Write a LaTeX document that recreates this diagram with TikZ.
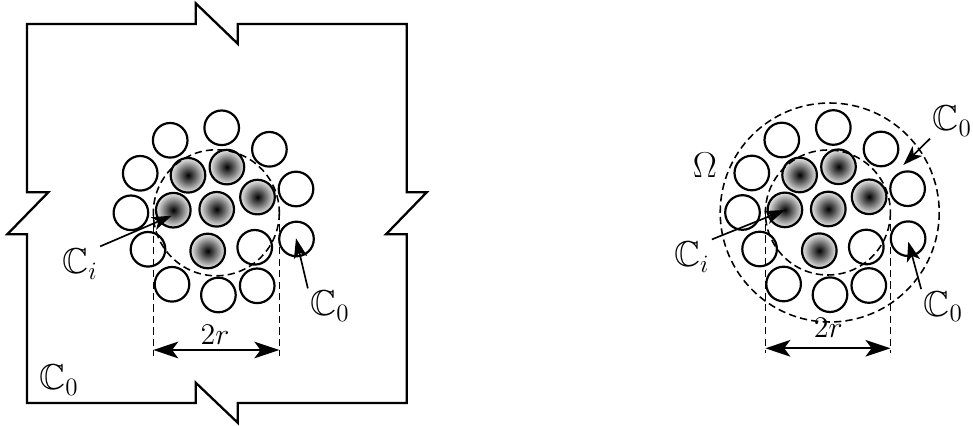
\documentclass[tikz,border=0pt]{standalone}
\usepackage{amssymb}
\usetikzlibrary{arrows.meta}
\tikzset{
  px/.style={x=0.48pt,y=-0.48pt},
  frame/.style={line width=1.1pt,line join=miter},
  ring/.style={line width=1.05pt},
  dashline/.style={line width=0.75pt,dash pattern=on 3.5pt off 2pt},
  bigC/.style={font=\LARGE,inner sep=1pt},
  midlbl/.style={font=\Large,inner sep=1pt},
  ptr/.style={line width=0.8pt,-{Stealth[length=9.5pt,width=6.5pt,inset=2.5pt]}},
  dim/.style={line width=0.8pt,{Stealth[length=12pt,width=8pt,inset=3pt]}-{Stealth[length=12pt,width=8pt,inset=3pt]}},
  fillball/.style={inner color=black,outer color=black!8}
}
\newcommand{\drawcluster}{%
  \foreach \cx/\cy in {-46.5/-69, 5/-81.5, 52.7/-60, -76.5/-36, 79.3/-20.3,
      -85.8/3.5, 79.8/29.7, -68.7/40, 38/38, -44.7/75, 1.7/85.7, 40.5/76.5}
    {\draw[ring] (\cx,\cy) circle (17.3);}
  \foreach \cx/\cy in {-28.7/-34, 10.2/-42.2, 40.8/-12.2, -43.4/0.9, 0/0, -9/41.7}
    {\shade[fillball] (\cx,\cy) circle (17.3);
     \draw[ring] (\cx,\cy) circle (17.3);}
}
\begin{document}
\begin{tikzpicture}[px]
\useasboundingbox (0,0) rectangle (973,426);
% ---------- left panel ----------
\draw[frame] (27,24) -- (195.7,24) -- (195.7,3.3) -- (237.7,43.7) -- (237.7,24)
  -- (406.7,24) -- (406.7,192.3) -- (426.7,192.3) -- (386,234.3) -- (406.7,234.3)
  -- (406.7,403) -- (237.7,403) -- (237.7,422.7) -- (195.7,382.7) -- (195.7,403)
  -- (27,403) -- (27,234.3) -- (7.3,234.3) -- (48.3,192.3) -- (27,192.3) -- cycle;
\begin{scope}[shift={(216.7,209.3)}]
  \drawcluster
\end{scope}
\draw[dashline] (216.3,212.8) circle (63);
\coordinate (lA) at (153.3,212.8);
\coordinate (lB) at (279.3,212.8);
\coordinate (lA2) at (153.3,356);
\coordinate (lB2) at (279.3,356);
\draw[dashline] (lA) -- (lA2);
\draw[dashline] (lB) -- (lB2);
\coordinate (lD1) at (153.3,350);
\coordinate (lD2) at (279.3,350);
\draw[dim] (lD1) -- (lD2);
\node[midlbl] (l2r) at (215,335) {$2r$};
\node[bigC] (lCi) at (80,264) {$\mathbb{C}_i$};
\node[bigC] (lC0a) at (330,306) {$\mathbb{C}_0$};
\node[bigC] (lC0b) at (59,380) {$\mathbb{C}_0$};
\coordinate (lCitip) at (171.7,215.7);
\coordinate (lC0tip) at (296,238.3);
\draw[ptr] (lCi.north east) -- (lCitip);
\draw[ptr] (lC0a.north west) -- (lC0tip);
% ---------- right panel ----------
\begin{scope}[shift={(828.3,209)}]
  \drawcluster
\end{scope}
\draw[dashline] (827.9,212.5) circle (62.5);
\draw[dashline] (829.7,212.5) circle (109.5);
\coordinate (rA) at (765.4,212.5);
\coordinate (rB) at (890.4,212.5);
\coordinate (rA2) at (765.4,353.3);
\coordinate (rB2) at (890.4,353.3);
\draw[dashline] (rA) -- (rA2);
\draw[dashline] (rB) -- (rB2);
\coordinate (rD1) at (765.4,348.3);
\coordinate (rD2) at (890.4,348.3);
\draw[dim] (rD1) -- (rD2);
\node[midlbl] (r2r) at (828.3,328.3) {$2r$};
\node[font=\LARGE,inner sep=1pt] (rOm) at (705,165) {$\Omega$};
\node[bigC] (rCi) at (691.7,257) {$\mathbb{C}_i$};
\node[bigC,anchor=west] (rC0a) at (930,121) {$\mathbb{C}_0$};
\node[bigC] (rC0b) at (943.3,306.7) {$\mathbb{C}_0$};
\coordinate (rCitip) at (785,210);
\coordinate (rC0atip) at (903.3,165);
\coordinate (rC0btip) at (908.3,241.7);
\draw[ptr] (rCi.north east) -- (rCitip);
\draw[ptr] (rC0a.south west) -- (rC0atip);
\draw[ptr] (rC0b.north west) -- (rC0btip);
\end{tikzpicture}
\end{document}
